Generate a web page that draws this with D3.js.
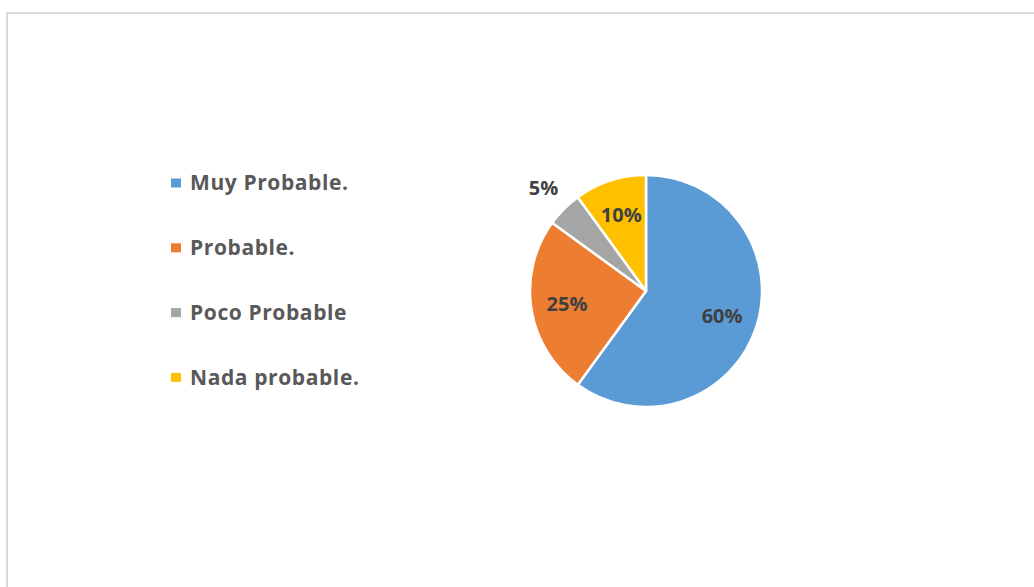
<!DOCTYPE html>
<html lang="es">
<head>
    <meta charset="UTF-8">
    <title>Pie</title>
    <script src="https://cdnjs.cloudflare.com/ajax/libs/d3/7.8.5/d3.min.js"></script>
    <style>
        body { margin: 0; background: #fff; }
        text { font-family: "Open Sans", sans-serif; font-weight: bold; }
    </style>
</head>
<body>
<script>
    var categories = ["Muy Probable.", "Probable.", "Poco Probable", "Nada probable."];
    var values = [60, 25, 5, 10];
    var colors = ["#5b9bd5", "#ed7d31", "#a5a5a5", "#ffc000"];

    var width = 1034, height = 587;
    var cx = 646, cy = 291, radius = 116;

    var svg = d3.select("body").append("svg")
        .attr("width", width)
        .attr("height", height);

    // chart frame (runs off right and bottom edges)
    svg.append("rect")
        .attr("x", 7).attr("y", 13)
        .attr("width", 1040).attr("height", 600)
        .attr("fill", "none")
        .attr("stroke", "#d9d9d9")
        .attr("stroke-width", 2);

    var pie = d3.pie().sort(null).value(function(d) { return d; });
    var arcs = pie(values);
    var total = d3.sum(values);

    var arc = d3.arc().innerRadius(0).outerRadius(radius);
    var labelArc = d3.arc().innerRadius(80).outerRadius(80);
    var outerArc = d3.arc().innerRadius(145).outerRadius(145);

    var g = svg.append("g").attr("transform", "translate(" + cx + "," + cy + ")");

    g.selectAll("path.slice").data(arcs)
        .enter().append("path")
        .attr("class", "slice")
        .attr("d", arc)
        .attr("fill", function(d, i) { return colors[i]; })
        .attr("stroke", "#fff")
        .attr("stroke-width", 2.5)
        .attr("stroke-linejoin", "round");

    g.selectAll("text.lbl").data(arcs)
        .enter().append("text")
        .attr("class", "lbl")
        .attr("transform", function(d) {
            var c = (d.value / total < 0.07 ? outerArc : labelArc).centroid(d);
            return "translate(" + c[0] + "," + c[1] + ")";
        })
        .attr("text-anchor", "middle")
        .attr("dy", "0.35em")
        .attr("font-size", 20)
        .attr("fill", "#404040")
        .text(function(d) { return d.value + "%"; });

    // legend
    var legend = svg.append("g").attr("transform", "translate(171,183)");
    var rows = legend.selectAll("g.row").data(categories)
        .enter().append("g")
        .attr("class", "row")
        .attr("transform", function(d, i) { return "translate(0," + (i * 64.8) + ")"; });

    rows.append("rect")
        .attr("x", 0).attr("y", -4.5)
        .attr("width", 10).attr("height", 9)
        .attr("fill", function(d, i) { return colors[i]; });

    rows.append("text")
        .attr("x", 19)
        .attr("dy", "0.35em")
        .attr("font-size", 21)
        .attr("letter-spacing", 0.6)
        .attr("fill", "#595959")
        .text(function(d) { return d; });
</script>
</body>
</html>
